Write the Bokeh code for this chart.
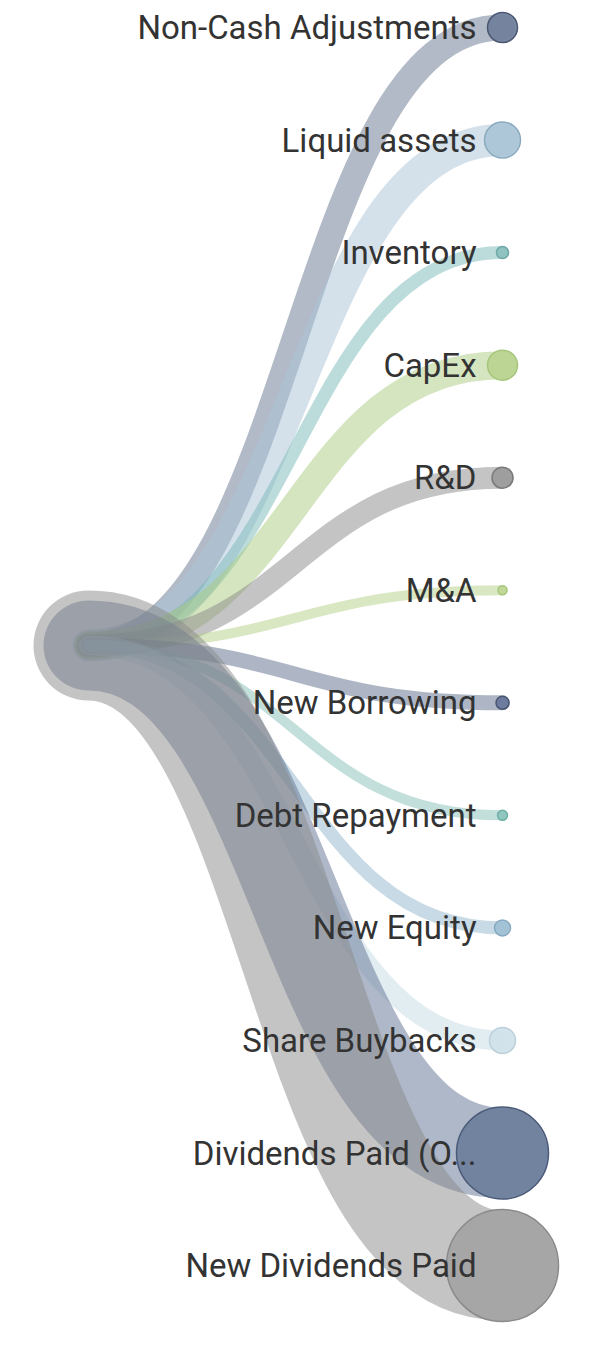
from bokeh.plotting import figure
from bokeh.models import Range1d, ColumnDataSource
from bokeh.core.properties import value
from bokeh.embed import file_html
from bokeh.resources import INLINE

# ---- data ----
targets = ["Non-Cash Adjustments", "Liquid assets", "Inventory", "CapEx", "R&D", "M&A",
           "New Borrowing", "Debt Repayment", "New Equity", "Share Buybacks",
           "Dividends Paid (O...", "New Dividends Paid"]
flow_values = [26, 32, 13, 28, 22, 10, 15, 10, 13, 20, 90, 110]
node_values = [15, 18, 6, 15, 10.5, 4.5, 6.5, 5, 8, 13, 46, 56]
link_colors = ["#66768f", "#a9c4d8", "#7ab8b8", "#aacb80", "#8a8a8a", "#b4d088",
               "#5e6d8c", "#86c0b8", "#8fb5cc", "#c5dbe6", "#5f7291", "#8a8a8a"]
node_fill = ["#6e7d99", "#a8c4d6", "#8bbfbf", "#b9d38f", "#9a9a9a", "#bdd594",
             "#66749a", "#8cc3bb", "#9fbfd3", "#d0e0e9", "#6c7d9b", "#a3a3a3"]
node_line = ["#4b5873", "#8aaabf", "#6fa8a8", "#a5c67a", "#7a7a7a", "#a5c67a",
             "#4a5670", "#6fb0a6", "#86a9c0", "#bcd0dc", "#4a5a78", "#8a8a8a"]

# ---- layout ----
W, H = 584, 1343
x_src, y_src = 88, 645
x_tgt = 502
y_top, y_step = 27, 112.55
n = len(targets)
ys = [y_top + i * y_step for i in range(n)]
xm = (x_src + x_tgt) / 2

links = ColumnDataSource(dict(
    x0=[x_src] * n, y0=[y_src] * n, x1=[x_tgt] * n, y1=ys,
    cx0=[xm] * n, cy0=[y_src] * n, cx1=[xm] * n, cy1=ys,
    w=flow_values, c=link_colors))

nodes = ColumnDataSource(dict(
    x=[x_tgt] * n, y=ys, size=[2 * v for v in node_values],
    fill=node_fill, line=node_line, label=targets, lx=[x_tgt - 26] * n))

p = figure(width=W, height=H, x_range=Range1d(0, W), y_range=Range1d(H, 0),
           output_backend="svg", toolbar_location=None, min_border=0)
p.axis.visible = False
p.grid.visible = False
p.outline_line_color = None
p.background_fill_color = "white"
p.border_fill_color = "white"

p.bezier(x0="x0", y0="y0", x1="x1", y1="y1", cx0="cx0", cy0="cy0", cx1="cx1", cy1="cy1",
         source=links, line_width="w", line_color="c", line_alpha=0.5, line_cap="round")

p.scatter(x="x", y="y", size="size", source=nodes, fill_color="fill", fill_alpha=0.9,
          line_color="line", line_width=1.5)

p.text(x="lx", y="y", text="label", source=nodes, text_align="right",
       text_baseline="middle", text_font=value("Roboto"), text_font_size="33px",
       text_color="#333333")

open("out.html", "w").write(file_html(p, INLINE))
